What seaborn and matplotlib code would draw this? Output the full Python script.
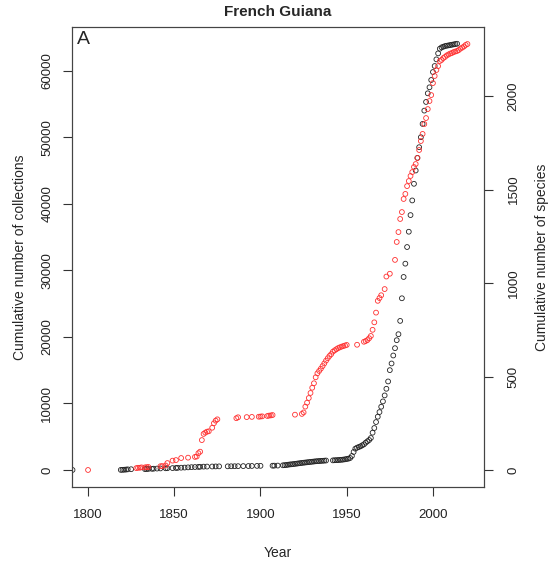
import matplotlib
matplotlib.use("Agg")
import matplotlib.pyplot as plt
import seaborn as sns

# Cumulative number of collections per year (left axis, black)
coll_years = [1791, 1819, 1820, 1821, 1822, 1823, 1825, 1833, 1834, 1835, 1837, 1838,
              1840, 1842, 1845, 1846, 1849, 1851, 1852, 1854, 1856, 1858, 1860, 1862,
              1864, 1865, 1867, 1869, 1872, 1874, 1876, 1881, 1883, 1885, 1887, 1890,
              1893, 1895, 1898, 1900, 1907, 1908, 1910,
              1913, 1914, 1915, 1916, 1917, 1918, 1919, 1920, 1921, 1922, 1923, 1924,
              1925, 1926, 1927, 1928, 1929, 1930, 1931, 1932, 1933, 1934, 1935, 1936,
              1937, 1938,
              1942, 1943, 1944, 1945, 1946, 1947, 1948, 1949, 1950, 1951, 1952, 1953,
              1954, 1955, 1956, 1957, 1958, 1959, 1960, 1961, 1962, 1963, 1964, 1965,
              1966, 1967, 1968, 1969, 1970, 1971, 1972, 1973, 1974, 1975, 1976, 1977,
              1978, 1979, 1980, 1981, 1982, 1983, 1984, 1985, 1986, 1987, 1988, 1989,
              1990, 1991, 1992, 1993, 1994, 1995, 1996, 1997, 1998, 1999, 2000, 2001,
              2002, 2003, 2004, 2005, 2006, 2007, 2008, 2009, 2010, 2011, 2012, 2013,
              2014]
coll_counts = [0, 10, 25, 40, 60, 90, 110, 130, 150, 160, 175, 190,
               210, 230, 250, 260, 280, 300, 320, 340, 360, 390, 420, 440,
               460, 480, 500, 510, 520, 530, 540, 545, 555, 560, 570, 580,
               590, 600, 610, 620, 640, 650, 660,
               700, 720, 750, 790, 830, 850, 880, 920, 950, 990, 1020, 1060,
               1090, 1120, 1150, 1180, 1210, 1240, 1270, 1300, 1320, 1340, 1360, 1380,
               1400, 1420,
               1440, 1460, 1470, 1490, 1510, 1530, 1560, 1600, 1650, 1700, 1800, 2100,
               2700, 3200, 3350, 3450, 3550, 3700, 3850, 4100, 4300, 4500, 4800, 5600,
               6300, 7200, 8000, 8700, 9500, 10300, 11200, 12200, 13300, 15000, 16000, 17200,
               18300, 19500, 20400, 22400, 25800, 29000, 31000, 33500, 35800, 38300, 40500, 43000,
               45000, 46900, 48500, 50000, 52000, 54000, 55300, 56600, 57500, 58600, 59800, 60700,
               61700, 62600, 63300, 63500, 63600, 63700, 63750, 63800, 63850, 63900, 63950, 64000,
               64050]

# Cumulative number of species per year (right axis, red)
spec_years = [1800, 1828, 1829, 1830, 1831, 1833, 1834, 1835, 1842, 1843, 1845, 1846,
              1849, 1851, 1854, 1858, 1862, 1863, 1864, 1865, 1866, 1867, 1868, 1869,
              1870, 1872, 1873, 1874, 1875, 1886, 1887, 1892, 1895, 1899, 1900, 1901,
              1904, 1905, 1906, 1907, 1920, 1924, 1925,
              1926, 1927, 1928, 1929, 1930, 1931, 1932, 1933, 1934, 1935, 1936, 1937,
              1938, 1939, 1940, 1941, 1942, 1943, 1944, 1945, 1946, 1947, 1948, 1949,
              1950, 1956, 1960, 1961, 1962, 1963, 1964, 1965, 1966, 1967, 1968, 1969,
              1970, 1972, 1973, 1975, 1978, 1979, 1980, 1981, 1982, 1983, 1984, 1985,
              1986, 1987, 1988, 1989, 1990, 1991, 1992, 1993, 1994, 1995, 1996, 1997,
              1998, 1999, 2000, 2001, 2002, 2003, 2004, 2005, 2006, 2007, 2008, 2009,
              2010, 2011, 2012, 2013, 2014, 2015, 2016, 2017, 2018, 2019, 2020]
spec_counts = [0, 10, 12, 12, 14, 14, 15, 16, 20, 21, 24, 37,
               50, 53, 64, 66, 70, 72, 90, 98, 160, 193, 200, 205,
               207, 226, 250, 264, 271, 277, 282, 283, 284, 285, 286, 287,
               289, 291, 292, 294, 296, 300, 308,
               339, 360, 385, 412, 440, 464, 496, 517, 530, 542, 556, 570,
               585, 598, 610, 620, 633, 640, 646, 652, 656, 660, 663, 666,
               669, 670, 686, 690, 695, 705, 717, 750, 790, 842, 905, 920,
               935, 968, 1035, 1050, 1124, 1220, 1273, 1343, 1380, 1450, 1477, 1519,
               1546, 1573, 1594, 1621, 1637, 1669, 1712, 1760, 1798, 1851, 1883, 1931,
               1974, 2006, 2070, 2108, 2140, 2161, 2188, 2194, 2204, 2210, 2218, 2223,
               2228, 2231, 2236, 2239, 2242, 2247, 2255, 2260, 2266, 2274, 2279]

sns.set_style("white")
plt.rcParams['font.family'] = ['Liberation Sans', 'DejaVu Sans']

fig = plt.figure(figsize=(5.53, 5.63), dpi=100)
ax = fig.add_axes([0.1302, 0.135, 0.745, 0.817])
ax2 = ax.twinx()

sns.scatterplot(x=coll_years, y=coll_counts, ax=ax, marker="o", s=12,
                facecolors="none", edgecolor="#222222", linewidth=0.6)
sns.scatterplot(x=spec_years, y=spec_counts, ax=ax2, marker="o", s=12,
                facecolors="none", edgecolor="#ff3030", linewidth=0.6)

ax.set_xlim(1790.7, 2029.6)
ax.set_ylim(-2560, 66560)
ax2.set_ylim(-91, 2370)

ax.set_xticks([1800, 1850, 1900, 1950, 2000])
ax.set_yticks(range(0, 60001, 10000))
ax2.set_yticks(range(0, 2001, 500))

for a in (ax, ax2):
    for sp in a.spines.values():
        sp.set_color("#444444")
        sp.set_linewidth(0.8)
    a.tick_params(direction="out", length=6.5, width=0.8, color="#333333",
                  labelsize=9.5, labelcolor="#222222")
ax.tick_params(axis="y", labelrotation=90, left=True, pad=7)
ax.tick_params(axis="x", bottom=True, pad=9.5)
ax2.tick_params(axis="y", labelrotation=90, right=True, pad=10.5)
for lab in ax.get_yticklabels() + ax2.get_yticklabels():
    lab.set_va("center")

ax.set_xlabel("Year", fontsize=10)
ax.set_ylabel("Cumulative number of collections", fontsize=10, va="center")
ax2.set_ylabel("Cumulative number of species", fontsize=10, va="center")
ax.xaxis.set_label_coords(0.5, -0.128)
ax.yaxis.set_label_coords(-0.127, 0.5)
ax2.yaxis.set_label_coords(1.14, 0.5)

fig.text(278 / 553, 1 - 12 / 563, "French Guiana", ha="center", va="center",
         fontsize=11, fontweight="bold")
fig.text(83 / 553, 1 - 40 / 563, "A", ha="center", va="center", fontsize=14)

fig.savefig("out.png", dpi=100)
